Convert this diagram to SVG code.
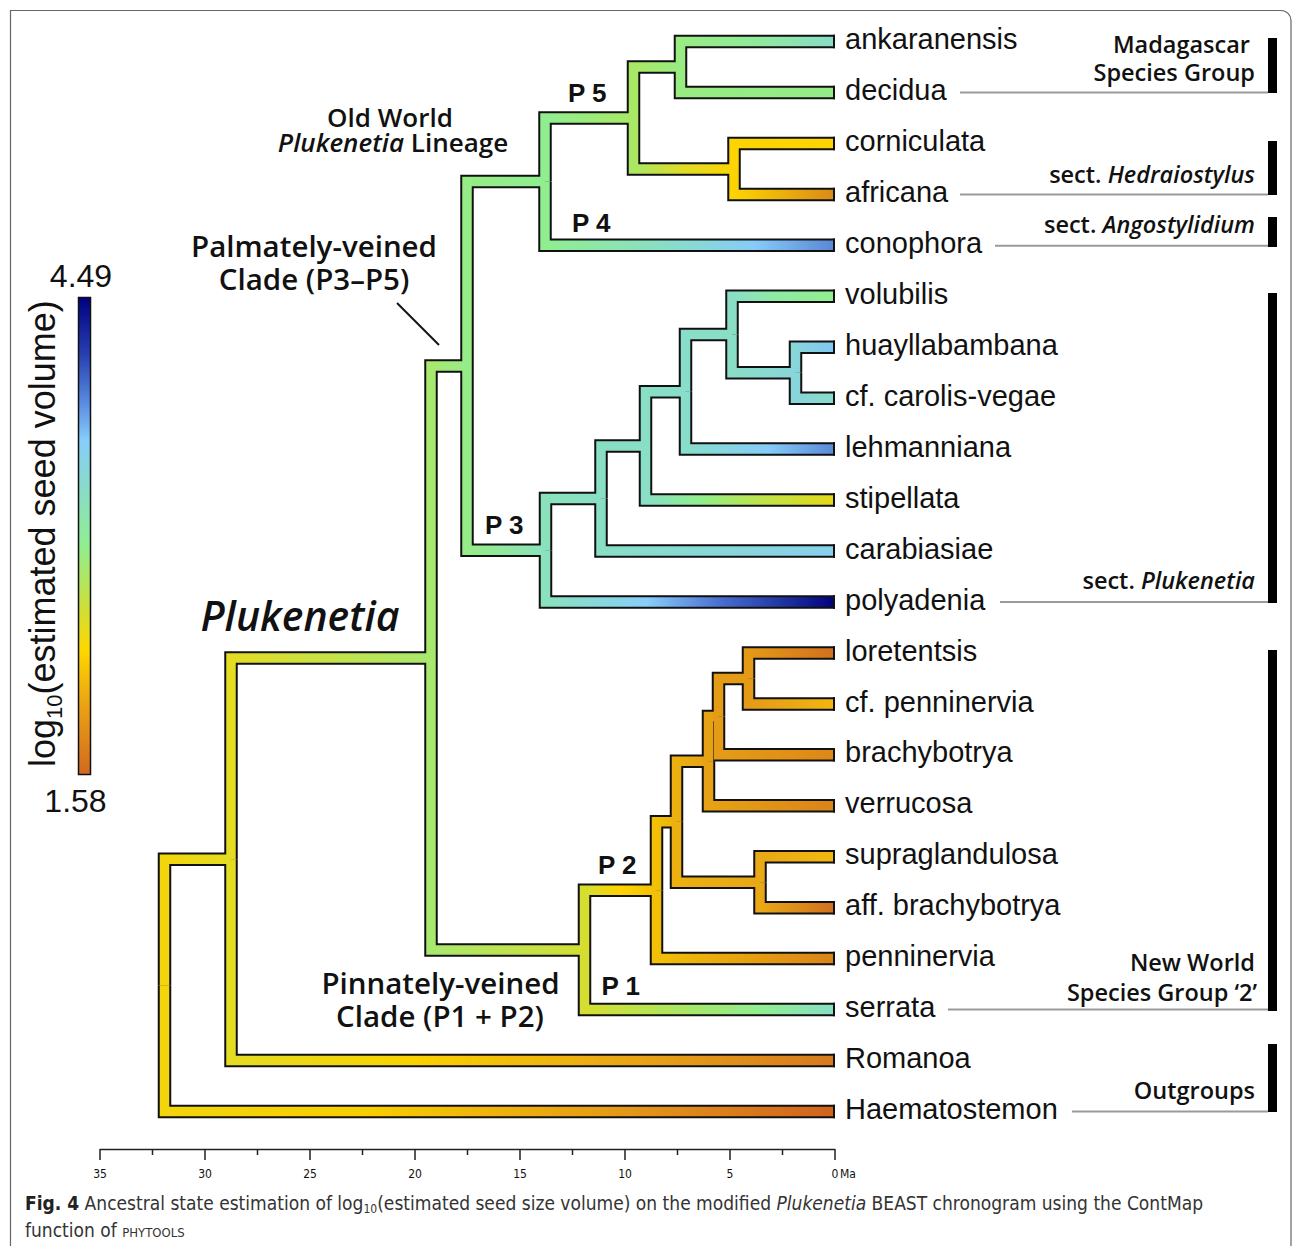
<svg xmlns="http://www.w3.org/2000/svg" xmlns:xlink="http://www.w3.org/1999/xlink" width="1293" height="1246" viewBox="0 0 1293 1246">
<style>
.o{fill:none;stroke:#111;stroke-width:13.5;stroke-linejoin:miter}
.f{fill:none;stroke-width:9.5;stroke-linejoin:miter}
.tip{font-family:"Liberation Sans",Arial,sans-serif;font-size:29px;fill:#111}
.lab{font-family:"Open Sans","Noto Sans",sans-serif;font-weight:600;fill:#111;text-anchor:middle}
.pl{font-family:"Liberation Sans",Arial,sans-serif;font-weight:700;font-size:26px;fill:#111}
.grp{font-family:"Open Sans","Noto Sans",sans-serif;font-weight:600;font-size:23.5px;fill:#111;text-anchor:end}
.lead{stroke:#9a9a9a;stroke-width:2;fill:none}
.bar{fill:#000}
.ax{font-family:"Liberation Sans Narrow","DejaVu Sans Condensed",sans-serif;font-size:12px;fill:#111;text-anchor:middle}
.cap{font-family:"Liberation Sans Narrow","DejaVu Sans Condensed",sans-serif;font-size:19px;fill:#333}
.num{font-family:"Liberation Sans",Arial,sans-serif;font-size:32px;fill:#111;text-anchor:middle}
</style>
<defs>
<linearGradient id="cb" x1="0" y1="0" x2="0" y2="1">
<stop offset="0" stop-color="#000080"/><stop offset="0.12" stop-color="#2840B0"/><stop offset="0.22" stop-color="#5A8AE0"/><stop offset="0.3" stop-color="#87CEFA"/><stop offset="0.4" stop-color="#88DCC8"/><stop offset="0.52" stop-color="#90EE90"/><stop offset="0.64" stop-color="#C8E040"/><stop offset="0.74" stop-color="#FFD700"/><stop offset="0.86" stop-color="#EAA016"/><stop offset="1" stop-color="#D2691E"/>
</linearGradient>
<linearGradient id="g1" gradientUnits="userSpaceOnUse" x1="164.5" y1="0" x2="231" y2="0"><stop offset="0" stop-color="#F2D50C"/><stop offset="1" stop-color="#E3DC22"/></linearGradient>
<linearGradient id="g2" gradientUnits="userSpaceOnUse" x1="164.5" y1="0" x2="835" y2="0"><stop offset="0" stop-color="#F2D50C"/><stop offset="0.3" stop-color="#F8CE00"/><stop offset="0.7" stop-color="#E49618"/><stop offset="1" stop-color="#D0621E"/></linearGradient>
<linearGradient id="g3" gradientUnits="userSpaceOnUse" x1="231" y1="0" x2="431" y2="0"><stop offset="0" stop-color="#E3DC22"/><stop offset="1" stop-color="#A8E86E"/></linearGradient>
<linearGradient id="g4" gradientUnits="userSpaceOnUse" x1="231" y1="0" x2="835" y2="0"><stop offset="0" stop-color="#E3DC22"/><stop offset="0.3" stop-color="#FAD200"/><stop offset="0.65" stop-color="#EAA616"/><stop offset="1" stop-color="#D67A1E"/></linearGradient>
<linearGradient id="g5" gradientUnits="userSpaceOnUse" x1="431" y1="0" x2="467" y2="0"><stop offset="0" stop-color="#A8E86E"/><stop offset="1" stop-color="#96EC86"/></linearGradient>
<linearGradient id="g6" gradientUnits="userSpaceOnUse" x1="431" y1="0" x2="584.5" y2="0"><stop offset="0" stop-color="#A8E86E"/><stop offset="1" stop-color="#D4DE30"/></linearGradient>
<linearGradient id="g7" gradientUnits="userSpaceOnUse" x1="467" y1="0" x2="545" y2="0"><stop offset="0" stop-color="#96EC86"/><stop offset="1" stop-color="#90EE90"/></linearGradient>
<linearGradient id="g8" gradientUnits="userSpaceOnUse" x1="467" y1="0" x2="545.5" y2="0"><stop offset="0" stop-color="#96EC86"/><stop offset="1" stop-color="#8AE2BC"/></linearGradient>
<linearGradient id="g9" gradientUnits="userSpaceOnUse" x1="545" y1="0" x2="633.5" y2="0"><stop offset="0" stop-color="#90EE90"/><stop offset="1" stop-color="#A9E864"/></linearGradient>
<linearGradient id="g10" gradientUnits="userSpaceOnUse" x1="545" y1="0" x2="835" y2="0"><stop offset="0" stop-color="#90EE90"/><stop offset="0.45" stop-color="#88DCCC"/><stop offset="0.72" stop-color="#86CCF8"/><stop offset="1" stop-color="#5A86D6"/></linearGradient>
<linearGradient id="g11" gradientUnits="userSpaceOnUse" x1="633.5" y1="0" x2="680.5" y2="0"><stop offset="0" stop-color="#A9E864"/><stop offset="1" stop-color="#98EC82"/></linearGradient>
<linearGradient id="g12" gradientUnits="userSpaceOnUse" x1="633.5" y1="0" x2="734" y2="0"><stop offset="0" stop-color="#A9E864"/><stop offset="0.5" stop-color="#E0DC26"/><stop offset="1" stop-color="#FCD402"/></linearGradient>
<linearGradient id="g13" gradientUnits="userSpaceOnUse" x1="680.5" y1="0" x2="835" y2="0"><stop offset="0" stop-color="#98EC82"/><stop offset="0.5" stop-color="#90EA9C"/><stop offset="1" stop-color="#88DCC8"/></linearGradient>
<linearGradient id="g14" gradientUnits="userSpaceOnUse" x1="680.5" y1="0" x2="835" y2="0"><stop offset="0" stop-color="#98EC82"/><stop offset="1" stop-color="#94EC88"/></linearGradient>
<linearGradient id="g15" gradientUnits="userSpaceOnUse" x1="734" y1="0" x2="835" y2="0"><stop offset="0" stop-color="#FCD402"/><stop offset="1" stop-color="#FFD400"/></linearGradient>
<linearGradient id="g16" gradientUnits="userSpaceOnUse" x1="734" y1="0" x2="835" y2="0"><stop offset="0" stop-color="#FCD402"/><stop offset="1" stop-color="#DA8A18"/></linearGradient>
<linearGradient id="g17" gradientUnits="userSpaceOnUse" x1="545.5" y1="0" x2="601" y2="0"><stop offset="0" stop-color="#8AE2BC"/><stop offset="1" stop-color="#88DFC4"/></linearGradient>
<linearGradient id="g18" gradientUnits="userSpaceOnUse" x1="545.5" y1="0" x2="835" y2="0"><stop offset="0" stop-color="#8AE2BC"/><stop offset="0.35" stop-color="#87CEFA"/><stop offset="0.6" stop-color="#4A70D0"/><stop offset="0.85" stop-color="#1A2C9A"/><stop offset="1" stop-color="#000080"/></linearGradient>
<linearGradient id="g19" gradientUnits="userSpaceOnUse" x1="601" y1="0" x2="645.5" y2="0"><stop offset="0" stop-color="#88DFC4"/><stop offset="1" stop-color="#88DFC6"/></linearGradient>
<linearGradient id="g20" gradientUnits="userSpaceOnUse" x1="601" y1="0" x2="835" y2="0"><stop offset="0" stop-color="#88DFC4"/><stop offset="1" stop-color="#88D0EC"/></linearGradient>
<linearGradient id="g21" gradientUnits="userSpaceOnUse" x1="645.5" y1="0" x2="685.5" y2="0"><stop offset="0" stop-color="#88DFC6"/><stop offset="1" stop-color="#88DEC8"/></linearGradient>
<linearGradient id="g22" gradientUnits="userSpaceOnUse" x1="645.5" y1="0" x2="835" y2="0"><stop offset="0" stop-color="#88DFC6"/><stop offset="0.28" stop-color="#90EE90"/><stop offset="0.6" stop-color="#BEE44A"/><stop offset="1" stop-color="#E4D816"/></linearGradient>
<linearGradient id="g23" gradientUnits="userSpaceOnUse" x1="685.5" y1="0" x2="732" y2="0"><stop offset="0" stop-color="#88DEC8"/><stop offset="1" stop-color="#89DEC6"/></linearGradient>
<linearGradient id="g24" gradientUnits="userSpaceOnUse" x1="685.5" y1="0" x2="835" y2="0"><stop offset="0" stop-color="#88DEC8"/><stop offset="0.55" stop-color="#86CCF8"/><stop offset="1" stop-color="#5A88D8"/></linearGradient>
<linearGradient id="g25" gradientUnits="userSpaceOnUse" x1="732" y1="0" x2="835" y2="0"><stop offset="0" stop-color="#89DEC6"/><stop offset="0.4" stop-color="#8EEAA4"/><stop offset="1" stop-color="#92EE8C"/></linearGradient>
<linearGradient id="g26" gradientUnits="userSpaceOnUse" x1="732" y1="0" x2="795.5" y2="0"><stop offset="0" stop-color="#89DEC6"/><stop offset="1" stop-color="#88D5DA"/></linearGradient>
<linearGradient id="g27" gradientUnits="userSpaceOnUse" x1="795.5" y1="0" x2="835" y2="0"><stop offset="0" stop-color="#88D5DA"/><stop offset="1" stop-color="#80C6F4"/></linearGradient>
<linearGradient id="g28" gradientUnits="userSpaceOnUse" x1="795.5" y1="0" x2="835" y2="0"><stop offset="0" stop-color="#88D5DA"/><stop offset="1" stop-color="#88DCC8"/></linearGradient>
<linearGradient id="g29" gradientUnits="userSpaceOnUse" x1="584.5" y1="0" x2="656.5" y2="0"><stop offset="0" stop-color="#D4DE30"/><stop offset="0.5" stop-color="#FFD400"/><stop offset="1" stop-color="#F2C006"/></linearGradient>
<linearGradient id="g30" gradientUnits="userSpaceOnUse" x1="584.5" y1="0" x2="835" y2="0"><stop offset="0" stop-color="#D4DE30"/><stop offset="0.45" stop-color="#A4E86C"/><stop offset="0.7" stop-color="#90EE90"/><stop offset="1" stop-color="#88DEC4"/></linearGradient>
<linearGradient id="g31" gradientUnits="userSpaceOnUse" x1="656.5" y1="0" x2="676.5" y2="0"><stop offset="0" stop-color="#F2C006"/><stop offset="1" stop-color="#ECB010"/></linearGradient>
<linearGradient id="g32" gradientUnits="userSpaceOnUse" x1="656.5" y1="0" x2="835" y2="0"><stop offset="0" stop-color="#F2C006"/><stop offset="1" stop-color="#DA821A"/></linearGradient>
<linearGradient id="g33" gradientUnits="userSpaceOnUse" x1="676.5" y1="0" x2="708.5" y2="0"><stop offset="0" stop-color="#ECB010"/><stop offset="1" stop-color="#E6A214"/></linearGradient>
<linearGradient id="g34" gradientUnits="userSpaceOnUse" x1="676.5" y1="0" x2="760" y2="0"><stop offset="0" stop-color="#ECB010"/><stop offset="1" stop-color="#E9A816"/></linearGradient>
<linearGradient id="g35" gradientUnits="userSpaceOnUse" x1="708.5" y1="0" x2="718.5" y2="0"><stop offset="0" stop-color="#E6A214"/><stop offset="1" stop-color="#E49C16"/></linearGradient>
<linearGradient id="g36" gradientUnits="userSpaceOnUse" x1="708.5" y1="0" x2="835" y2="0"><stop offset="0" stop-color="#E6A214"/><stop offset="1" stop-color="#DA8418"/></linearGradient>
<linearGradient id="g37" gradientUnits="userSpaceOnUse" x1="718.5" y1="0" x2="748.5" y2="0"><stop offset="0" stop-color="#E49C16"/><stop offset="1" stop-color="#E49A16"/></linearGradient>
<linearGradient id="g38" gradientUnits="userSpaceOnUse" x1="718.5" y1="0" x2="835" y2="0"><stop offset="0" stop-color="#E49C16"/><stop offset="1" stop-color="#DE8818"/></linearGradient>
<linearGradient id="g39" gradientUnits="userSpaceOnUse" x1="748.5" y1="0" x2="835" y2="0"><stop offset="0" stop-color="#E49A16"/><stop offset="1" stop-color="#D27020"/></linearGradient>
<linearGradient id="g40" gradientUnits="userSpaceOnUse" x1="748.5" y1="0" x2="835" y2="0"><stop offset="0" stop-color="#E49A16"/><stop offset="1" stop-color="#F0B810"/></linearGradient>
<linearGradient id="g41" gradientUnits="userSpaceOnUse" x1="760" y1="0" x2="835" y2="0"><stop offset="0" stop-color="#E9A816"/><stop offset="1" stop-color="#F0B810"/></linearGradient>
<linearGradient id="g42" gradientUnits="userSpaceOnUse" x1="760" y1="0" x2="835" y2="0"><stop offset="0" stop-color="#E9A816"/><stop offset="1" stop-color="#D0701E"/></linearGradient>
<path id="b1" d="M164.5 985.35V859.2H231"/>
<path id="b2" d="M164.5 985.35V1111.5H835"/>
<path id="b3" d="M231 859.2V657.9H431"/>
<path id="b4" d="M231 859.2V1060.5H835"/>
<path id="b5" d="M431 657.9V365.9H467"/>
<path id="b6" d="M431 657.9V949.9H584.5"/>
<path id="b7" d="M467 365.9V181.6H545"/>
<path id="b8" d="M467 365.9V550.25H545.5"/>
<path id="b9" d="M545 181.6V117.95H633.5"/>
<path id="b10" d="M545 181.6V245.3H835"/>
<path id="b11" d="M633.5 117.95V67H680.5"/>
<path id="b12" d="M633.5 117.95V168.9H734"/>
<path id="b13" d="M680.5 67V41.5H835"/>
<path id="b14" d="M680.5 67V92.5H835"/>
<path id="b15" d="M734 168.9V143.4H835"/>
<path id="b16" d="M734 168.9V194.4H835"/>
<path id="b17" d="M545.5 550.25V498.5H601"/>
<path id="b18" d="M545.5 550.25V602H835"/>
<path id="b19" d="M601 498.5V445.95H645.5"/>
<path id="b20" d="M601 498.5V551H835"/>
<path id="b21" d="M645.5 445.95V391.8H685.5"/>
<path id="b22" d="M645.5 445.95V500.1H835"/>
<path id="b23" d="M685.5 391.8V334.5H732"/>
<path id="b24" d="M685.5 391.8V449.1H835"/>
<path id="b25" d="M732 334.5V296.3H835"/>
<path id="b26" d="M732 334.5V372.7H795.5"/>
<path id="b27" d="M795.5 372.7V347.2H835"/>
<path id="b28" d="M795.5 372.7V398.2H835"/>
<path id="b29" d="M584.5 949.9V890.15H656.5"/>
<path id="b30" d="M584.5 949.9V1009.6H835"/>
<path id="b31" d="M656.5 890.15V821.7H676.5"/>
<path id="b32" d="M656.5 890.15V958.6H835"/>
<path id="b33" d="M676.5 821.7V761.2H708.5"/>
<path id="b34" d="M676.5 821.7V882.2H760"/>
<path id="b35" d="M708.5 761.2V716.6H718.5"/>
<path id="b36" d="M708.5 761.2V805.8H835"/>
<path id="b37" d="M718.5 716.6V678.4H748.5"/>
<path id="b38" d="M718.5 716.6V754.8H835"/>
<path id="b39" d="M748.5 678.4V652.9H835"/>
<path id="b40" d="M748.5 678.4V703.9H835"/>
<path id="b41" d="M760 882.2V856.7H835"/>
<path id="b42" d="M760 882.2V907.7H835"/>
</defs>

<rect width="1293" height="1246" fill="#fff"/>
<path d="M10.5 1246V10.5H1281a10 10 0 0 1 10 10V1246" fill="none" stroke="#666" stroke-width="1.2"/>

<g id="connectors">
<g class="o">
<use href="#b1"/><use href="#b2"/><use href="#b3"/><use href="#b4"/><use href="#b5"/><use href="#b6"/><use href="#b7"/><use href="#b8"/><use href="#b9"/><use href="#b10"/><use href="#b11"/><use href="#b12"/><use href="#b13"/><use href="#b14"/><use href="#b15"/><use href="#b16"/><use href="#b17"/><use href="#b18"/><use href="#b19"/><use href="#b20"/><use href="#b21"/><use href="#b22"/><use href="#b23"/><use href="#b24"/><use href="#b25"/><use href="#b26"/><use href="#b27"/><use href="#b28"/><use href="#b29"/><use href="#b30"/><use href="#b31"/><use href="#b32"/><use href="#b33"/><use href="#b34"/><use href="#b35"/><use href="#b36"/><use href="#b37"/><use href="#b38"/><use href="#b39"/><use href="#b40"/><use href="#b41"/><use href="#b42"/>
</g>
<g class="f">
<use href="#b1" stroke="url(#g1)"/><use href="#b2" stroke="url(#g2)"/><use href="#b3" stroke="url(#g3)"/><use href="#b4" stroke="url(#g4)"/><use href="#b5" stroke="url(#g5)"/><use href="#b6" stroke="url(#g6)"/><use href="#b7" stroke="url(#g7)"/><use href="#b8" stroke="url(#g8)"/><use href="#b9" stroke="url(#g9)"/><use href="#b10" stroke="url(#g10)"/><use href="#b11" stroke="url(#g11)"/><use href="#b12" stroke="url(#g12)"/><use href="#b13" stroke="url(#g13)"/><use href="#b14" stroke="url(#g14)"/><use href="#b15" stroke="url(#g15)"/><use href="#b16" stroke="url(#g16)"/><use href="#b17" stroke="url(#g17)"/><use href="#b18" stroke="url(#g18)"/><use href="#b19" stroke="url(#g19)"/><use href="#b20" stroke="url(#g20)"/><use href="#b21" stroke="url(#g21)"/><use href="#b22" stroke="url(#g22)"/><use href="#b23" stroke="url(#g23)"/><use href="#b24" stroke="url(#g24)"/><use href="#b25" stroke="url(#g25)"/><use href="#b26" stroke="url(#g26)"/><use href="#b27" stroke="url(#g27)"/><use href="#b28" stroke="url(#g28)"/><use href="#b29" stroke="url(#g29)"/><use href="#b30" stroke="url(#g30)"/><use href="#b31" stroke="url(#g31)"/><use href="#b32" stroke="url(#g32)"/><use href="#b33" stroke="url(#g33)"/><use href="#b34" stroke="url(#g34)"/><use href="#b35" stroke="url(#g35)"/><use href="#b36" stroke="url(#g36)"/><use href="#b37" stroke="url(#g37)"/><use href="#b38" stroke="url(#g38)"/><use href="#b39" stroke="url(#g39)"/><use href="#b40" stroke="url(#g40)"/><use href="#b41" stroke="url(#g41)"/><use href="#b42" stroke="url(#g42)"/>
</g>
<path fill="none" stroke="#111" stroke-width="2" d="M834 34.75V48.25M834 85.75V99.25M834 136.65V150.15M834 187.65V201.15M834 238.55V252.05M834 289.55V303.05M834 340.45V353.95M834 391.45V404.95M834 442.35V455.85M834 493.35V506.85M834 544.25V557.75M834 595.25V608.75M834 646.15V659.65M834 697.15V710.65M834 748.05V761.55M834 799.05V812.55M834 849.95V863.45M834 900.95V914.45M834 951.85V965.35M834 1002.85V1016.35M834 1053.75V1067.25M834 1104.75V1118.25"/>
<path d="M397 303L439 345" stroke="#111" stroke-width="2"/>
</g>

<g id="tips" class="tip">
<g id="t-ankaranensis"><text x="845" y="48.5">ankaranensis</text></g>
<g id="t-decidua"><text x="845" y="99.5">decidua</text></g>
<g id="t-corniculata"><text x="845" y="150.5">corniculata</text></g>
<g id="t-africana"><text x="845" y="201.5">africana</text></g>
<g id="t-conophora"><text x="845" y="252.5">conophora</text></g>
<g id="t-volubilis"><text x="845" y="303.5">volubilis</text></g>
<g id="t-huayllabambana"><text x="845" y="354.5">huayllabambana</text></g>
<g id="t-carolis"><text x="845" y="405.5">cf. carolis-vegae</text></g>
<g id="t-lehmanniana"><text x="845" y="456.5">lehmanniana</text></g>
<g id="t-stipellata"><text x="845" y="507.5">stipellata</text></g>
<g id="t-carabiasiae"><text x="845" y="558.5">carabiasiae</text></g>
<g id="t-polyadenia"><text x="845" y="609.5">polyadenia</text></g>
<g id="t-loretentsis"><text x="845" y="660.5">loretentsis</text></g>
<g id="t-cfpenninervia"><text x="845" y="711.5">cf. penninervia</text></g>
<g id="t-brachybotrya"><text x="845" y="762">brachybotrya</text></g>
<g id="t-verrucosa"><text x="845" y="813">verrucosa</text></g>
<g id="t-supraglandulosa"><text x="845" y="864">supraglandulosa</text></g>
<g id="t-affbrachybotrya"><text x="845" y="915">aff. brachybotrya</text></g>
<g id="t-penninervia"><text x="845" y="966">penninervia</text></g>
<g id="t-serrata"><text x="845" y="1017">serrata</text></g>
<g id="t-romanoa"><text x="845" y="1068">Romanoa</text></g>
<g id="t-haematostemon"><text x="845" y="1119">Haematostemon</text></g>
</g>

<g id="clade-labels">
<text class="lab" x="390" y="127" font-size="26">Old World</text>
<text class="lab" x="393" y="152" font-size="26"><tspan font-style="italic">Plukenetia</tspan> Lineage</text>
<text class="lab" x="314" y="257" font-size="29.5">Palmately-veined</text>
<text class="lab" x="314" y="290" font-size="29.5">Clade (P3–P5)</text>
<text class="lab" x="300" y="631" font-size="41" font-style="italic" font-weight="700">Plukenetia</text>
<text class="lab" x="440.5" y="994" font-size="29.5">Pinnately-veined</text>
<text class="lab" x="440" y="1027" font-size="29.5">Clade (P1 + P2)</text>
<text class="pl" x="568" y="101.5">P 5</text>
<text class="pl" x="572" y="231.5">P 4</text>
<text class="pl" x="485" y="533.5">P 3</text>
<text class="pl" x="598" y="873.5">P 2</text>
<text class="pl" x="601.5" y="995">P 1</text>
</g>

<g id="groups">
<path class="lead" d="M960 92.5H1268M960 194.4H1268M995 245.8H1268M1000 602H1268M948 1009.6H1268M1072 1111.5H1268"/>
<rect class="bar" x="1268" y="38" width="9" height="55"/>
<rect class="bar" x="1268" y="141" width="9" height="54"/>
<rect class="bar" x="1268" y="217" width="9" height="30"/>
<rect class="bar" x="1268" y="293" width="9" height="310"/>
<rect class="bar" x="1268" y="650" width="9" height="361"/>
<rect class="bar" x="1268" y="1044" width="9" height="68"/>
<text class="grp" x="1250" y="53">Madagascar</text>
<text class="grp" x="1255" y="81">Species Group</text>
<text class="grp" x="1255" y="183">sect. <tspan font-style="italic">Hedraiostylus</tspan></text>
<text class="grp" x="1255" y="233">sect. <tspan font-style="italic">Angostylidium</tspan></text>
<text class="grp" x="1255" y="589">sect. <tspan font-style="italic">Plukenetia</tspan></text>
<text class="grp" x="1255" y="971">New World</text>
<text class="grp" x="1257" y="1001">Species Group ‘2’</text>
<text class="grp" x="1255" y="1099">Outgroups</text>
</g>

<g id="legend">
<rect x="78.5" y="297.5" width="12" height="477" fill="url(#cb)" stroke="#111" stroke-width="1.5"/>
<text class="num" x="81" y="286.5">4.49</text>
<text class="num" x="75.5" y="812">1.58</text>
<text transform="translate(55,767) rotate(-90)" font-family="Liberation Sans, Arial, sans-serif" font-size="36" fill="#111">log<tspan font-size="22" dy="7">10</tspan><tspan dy="-7">(estimated seed volume)</tspan></text>
</g>

<g id="axis">
<path d="M100 1149.5H835M100 1149V1160M205 1149V1160M310 1149V1160M415 1149V1160M520 1149V1160M625 1149V1160M730 1149V1160M835 1149V1160M152.5 1149V1155M257.5 1149V1155M362.5 1149V1155M467.5 1149V1155M572.5 1149V1155M677.5 1149V1155M782.5 1149V1155" stroke="#222" stroke-width="1.5" fill="none"/>
<text class="ax" x="100" y="1178">35</text>
<text class="ax" x="205" y="1178">30</text>
<text class="ax" x="310" y="1178">25</text>
<text class="ax" x="415" y="1178">20</text>
<text class="ax" x="520" y="1178">15</text>
<text class="ax" x="625" y="1178">10</text>
<text class="ax" x="730" y="1178">5</text>
<text class="ax" x="835" y="1178">0</text>
<text class="ax" x="848" y="1178" text-anchor="start">Ma</text>
</g>

<g id="caption">
<text class="cap" x="25" y="1210" textLength="1178" lengthAdjust="spacingAndGlyphs"><tspan font-weight="700" fill="#222">Fig. 4</tspan> Ancestral state estimation of log<tspan font-size="12" dy="3">10</tspan><tspan dy="-3">(estimated seed size volume) on the modified </tspan><tspan font-style="italic">Plukenetia</tspan> BEAST chronogram using the ContMap</text>
<text class="cap" x="25" y="1237">function of <tspan font-size="13">PHYTOOLS</tspan></text>
</g>
</svg>
